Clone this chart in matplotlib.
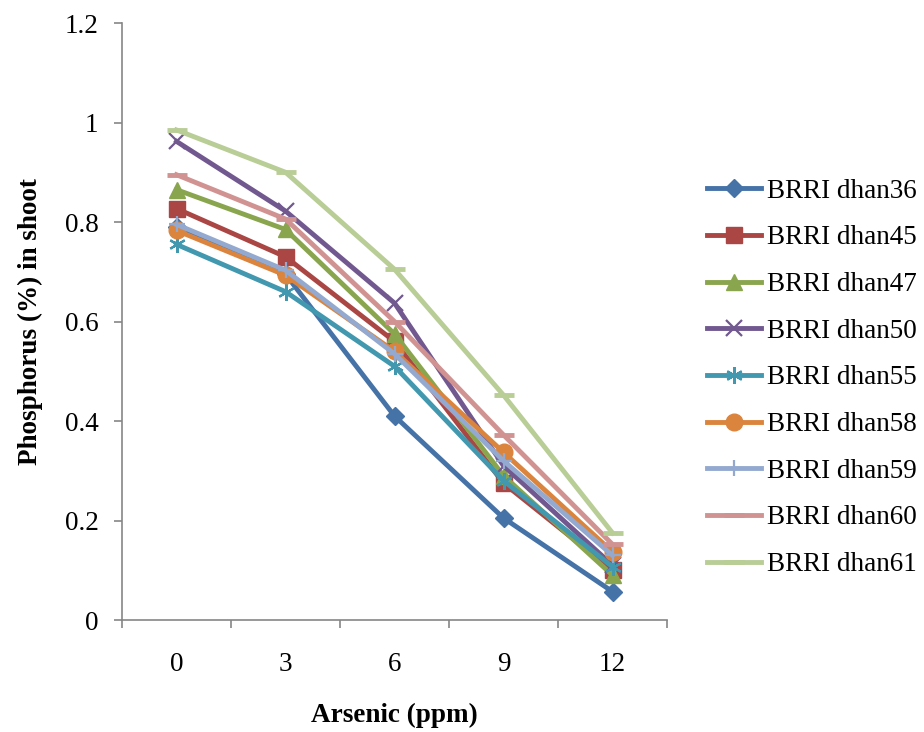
import matplotlib
matplotlib.use("Agg")
import matplotlib.pyplot as plt

plt.rcParams['font.family'] = ['Liberation Serif', 'DejaVu Serif']

arsenic = ['0', '3', '6', '9', '12']
varieties = ['BRRI dhan36', 'BRRI dhan45', 'BRRI dhan47', 'BRRI dhan50', 'BRRI dhan55',
             'BRRI dhan58', 'BRRI dhan59', 'BRRI dhan60', 'BRRI dhan61']
dhan36 = [0.79, 0.695, 0.41, 0.205, 0.057]
dhan45 = [0.827, 0.73, 0.56, 0.275, 0.10]
dhan47 = [0.865, 0.785, 0.575, 0.29, 0.09]
dhan50 = [0.962, 0.822, 0.637, 0.31, 0.11]
dhan55 = [0.755, 0.66, 0.51, 0.28, 0.107]
dhan58 = [0.783, 0.693, 0.54, 0.337, 0.137]
dhan59 = [0.795, 0.703, 0.535, 0.32, 0.13]
dhan60 = [0.895, 0.806, 0.60, 0.372, 0.152]
dhan61 = [0.985, 0.90, 0.705, 0.452, 0.175]
series = [dhan36, dhan45, dhan47, dhan50, dhan55, dhan58, dhan59, dhan60, dhan61]

colors = ['#4572A7', '#AA4643', '#89A54E', '#71588F', '#4198AF',
          '#DB843D', '#93A9CF', '#D19392', '#B9CD96']
# marker, size, edge width
markers = [('D', 9, 1), ('s', 12, 1), ('^', 12, 1), ('x', 11, 1.6), ((6, 2, 0), 12, 1.6),
           ('o', 12, 1), ('+', 12, 1.6), ('_', 14, 3.5), ('_', 14, 3.5)]

fig = plt.figure(figsize=(9.24, 7.32), dpi=100)
ax = fig.add_axes([122/924, 1 - 620/732, 545/924, 597/732])

x = list(range(len(arsenic)))
for vals, name, c, (m, ms, mew) in zip(series, varieties, colors, markers):
    ax.plot(x, vals, color=c, lw=3.5, marker=m, ms=ms, mew=mew, mec=c, mfc=c, label=name)

ax.set_ylim(0, 1.2)
ax.set_yticks([0, 0.2, 0.4, 0.6, 0.8, 1.0, 1.2])
ax.set_yticklabels(['0', '0.2', '0.4', '0.6', '0.8', '1', '1.2'])
ax.set_xlim(-0.5, 4.5)
ax.set_xticks(x)
ax.set_xticklabels(arsenic)
ax.set_xticks([i - 0.5 for i in range(6)], minor=True)
ax.tick_params(axis='x', which='major', length=0, pad=23, labelsize=19.5)
ax.tick_params(axis='x', which='minor', length=6, width=1.2, color='#868686', direction='out')
ax.tick_params(axis='y', length=6, width=1.2, color='#868686', pad=11, labelsize=19.5)

for s in ['top', 'right']:
    ax.spines[s].set_visible(False)
for s in ['left', 'bottom']:
    ax.spines[s].set_color('#868686')
    ax.spines[s].set_linewidth(1.2)

ax.set_ylabel('Phosphorus (%) in shoot', fontsize=19.5, fontweight='bold')
ax.yaxis.set_label_coords((30 - 122) / 545, 0.5)
ax.yaxis.label.set_va('center')
ax.set_xlabel('Arsenic (ppm)', fontsize=19.5, fontweight='bold')
ax.xaxis.set_label_coords(0.5, (620 - 715) / 597)
ax.xaxis.label.set_va('center')

fig.legend(loc='center left', bbox_to_anchor=(707/924, 1 - 378/732), frameon=False,
           fontsize=19.5, handlelength=2.0, handletextpad=0.2, labelspacing=0.8,
           borderpad=0, borderaxespad=0)

fig.savefig('out.png', dpi=100)
